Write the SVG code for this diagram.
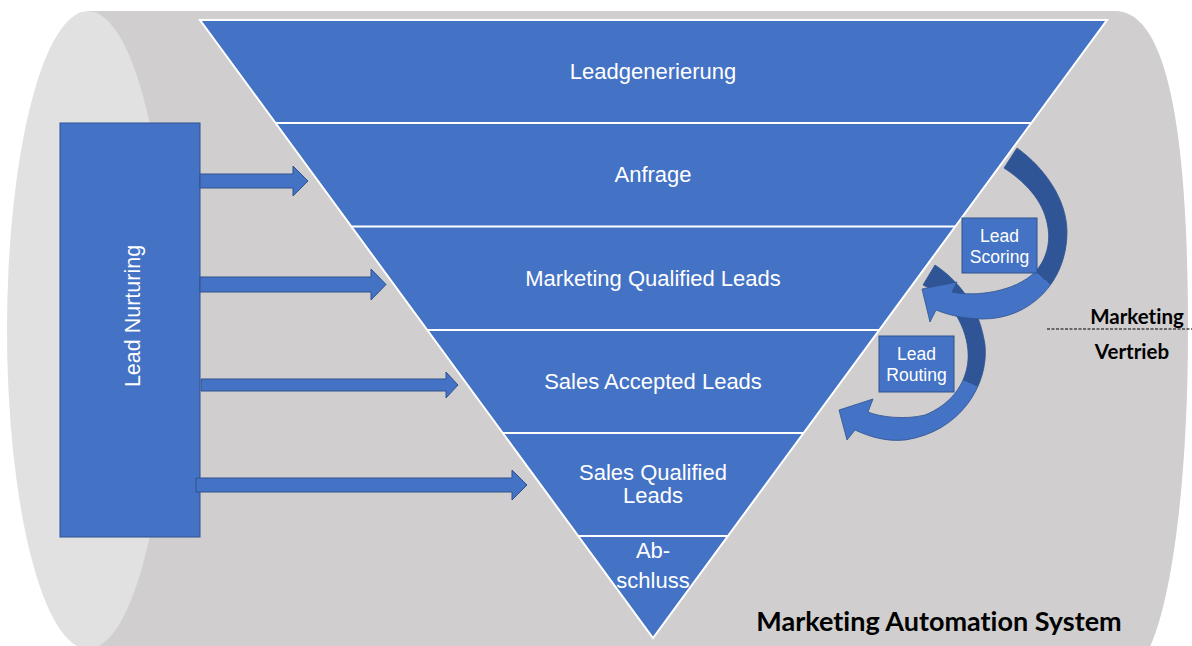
<svg xmlns="http://www.w3.org/2000/svg" width="1192" height="646" viewBox="0 0 1192 646">
<style>
.ft{font-family:"Liberation Sans",Arial,sans-serif;fill:#ffffff;text-anchor:middle}
.lb{font-family:Lato,"Liberation Sans",sans-serif;font-weight:bold;fill:#000000;text-anchor:middle;font-variant-ligatures:none;font-feature-settings:"liga" 0}
.blue{fill:#4472c4;stroke:#2f528f;stroke-width:1}
.sep{stroke:#ffffff;stroke-width:2}
</style>
<defs>
<linearGradient id="gScore" gradientUnits="userSpaceOnUse" x1="1053" y1="271" x2="1037" y2="289">
<stop offset="0.5" stop-color="#2f5597"/><stop offset="0.5" stop-color="#4472c4"/>
</linearGradient>
<linearGradient id="gRoute" gradientUnits="userSpaceOnUse" x1="979" y1="374" x2="969" y2="396">
<stop offset="0.5" stop-color="#2f5597"/><stop offset="0.5" stop-color="#4472c4"/>
</linearGradient>
</defs>
<rect width="1192" height="646" fill="#ffffff"/>
<g id="cylinder">
<path d="M88 11 L1115 11 C1165 11 1188 120 1188 330 C1188 480 1172 600 1149 649 L88 649 Z" fill="#d0cece"/>
<ellipse cx="88" cy="330" rx="81" ry="319" fill="#e1e1e1"/>
</g>
<g id="funnel">
<polygon points="200,20 1107,20 653,638" fill="#4472c4" stroke="#ffffff" stroke-width="2" stroke-linejoin="miter"/>
<line class="sep" x1="275.5" y1="123" x2="1031.3" y2="123"/>
<line class="sep" x1="351.4" y1="226.5" x2="955.3" y2="226.5"/>
<line class="sep" x1="427.2" y1="330" x2="879.3" y2="330"/>
<line class="sep" x1="502.7" y1="433" x2="803.6" y2="433"/>
<line class="sep" x1="578.2" y1="536" x2="728" y2="536"/>
<text class="ft" x="653" y="79" font-size="22">Leadgenerierung</text>
<text class="ft" x="653" y="182" font-size="22">Anfrage</text>
<text class="ft" x="653" y="286" font-size="22">Marketing Qualified Leads</text>
<text class="ft" x="653" y="389" font-size="22">Sales Accepted Leads</text>
<text class="ft" x="653" y="480" font-size="22">Sales Qualified</text>
<text class="ft" x="653" y="503" font-size="22">Leads</text>
<text class="ft" x="653" y="558" font-size="22">Ab-</text>
<text class="ft" x="653" y="588" font-size="22">schluss</text>
</g>
<g id="lead-nurturing">
<rect class="blue" x="60" y="123" width="140" height="414"/>
<text class="ft" font-size="21.5" transform="translate(140,316) rotate(-90)">Lead Nurturing</text>
</g>
<g id="connectors">
<polygon class="blue" points="200,174 293,174 293,166 308,181 293,196 293,188 200,188"/>
<polygon class="blue" points="200,277 371,277 371,269 386,284.5 371,300 371,292 200,292"/>
<polygon class="blue" points="201,379 446,379 446,372 458,385 446,398 446,391 201,391"/>
<polygon class="blue" points="196,478 512,478 512,470 527,485 512,500 512,492 196,492"/>
<path id="routing-arrow" fill="url(#gRoute)" stroke="#2f528f" stroke-width="0.8" d="M935 265 C962 283 980 310 985 345 C989 385 960 432 905 440 C885 442 868 436 855 430 L847 440 L839 410 L873 399 L868 412 C880 417 905 420 925 415 C950 405 966 385 968 360 C970 335 955 300 923 285 Z"/>
<path id="scoring-arrow" fill="url(#gScore)" stroke="#2f528f" stroke-width="0.8" d="M1017 148 C1045 168 1067 200 1067 232 C1067 282 1030 319 983 319 C965 319 948 315 936 310 L930 322 L922 289 L957 282 L952 292 C975 297 1015 292 1035 272 C1048 258 1050 240 1048 228 C1045 205 1030 185 1004 168 Z"/>
</g>
<g id="lead-scoring">
<rect class="blue" x="962" y="218" width="75" height="55"/>
<text class="ft" x="999.5" y="242" font-size="17.5">Lead</text>
<text class="ft" x="999.5" y="263" font-size="17.5">Scoring</text>
</g>
<g id="lead-routing">
<rect class="blue" x="879" y="336" width="75" height="56"/>
<text class="ft" x="916.5" y="360" font-size="17.5">Lead</text>
<text class="ft" x="916.5" y="381" font-size="17.5">Routing</text>
</g>
<g id="labels">
<line x1="1047" y1="329" x2="1192" y2="329" stroke="#000000" stroke-width="1" stroke-dasharray="3,1.5"/>
<text class="lb" x="1137" y="324" font-size="20.5">Marketing</text>
<text class="lb" x="1132" y="359" font-size="20.5">Vertrieb</text>
<text class="lb" x="939" y="631" font-size="27">Marketing Automation System</text>
</g>
</svg>
